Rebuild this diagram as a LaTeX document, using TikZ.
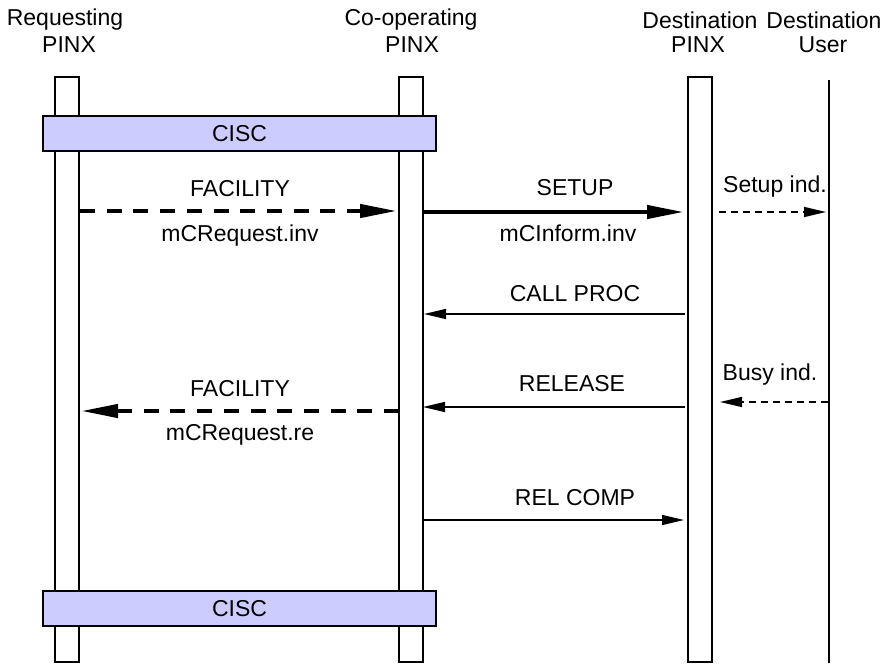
\documentclass[tikz,border=0pt]{standalone}
\usepackage{fontspec}
\setmainfont{Liberation Sans}
\usetikzlibrary{arrows.meta}
\definecolor{ciscfill}{RGB}{204,204,255}
\tikzset{
  lifebar/.style={draw=black, line width=1.3pt, fill=white},
  ciscbox/.style={draw=black, line width=1.3pt, fill=ciscfill, minimum width=393pt, minimum height=35pt, inner sep=0pt},
  hdr/.style={inner sep=0pt, font=\fontsize{23}{27}\selectfont},
  lbl/.style={inner sep=0pt, font=\fontsize{23}{27}\selectfont},
  bigdash/.style={line width=4.3pt, dash pattern=on 15pt off 11.7pt, -{Triangle[length=37pt,width=13pt]}},
  bigsolid/.style={line width=4.3pt, -{Triangle[length=37pt,width=13pt]}},
  thinsolid/.style={line width=1.5pt, -{Triangle[length=22pt,width=10pt]}},
  thindash/.style={line width=1.5pt, dash pattern=on 7pt off 5pt, -{Triangle[length=22pt,width=10pt]}},
}
\begin{document}
\begin{tikzpicture}[x=1pt, y=-1pt]
\useasboundingbox (0,0) rectangle (890,663);

% column headings
\node[hdr] (h1a) at (65,20) {Requesting};
\node[hdr] (h1b) at (69,45) {PINX};
\node[hdr] (h2a) at (411,20) {Co-operating};
\node[hdr] (h2b) at (412,45) {PINX};
\node[hdr] (h3a) at (700,20) {Destination};
\node[hdr] (h3b) at (698,45) {PINX};
\node[hdr] (h4a) at (824,20) {Destination};
\node[hdr] (h4b) at (823,45) {User};

% lifelines
\draw[lifebar] (55,77) rectangle (79,662);
\draw[lifebar] (399,77) rectangle (423,662);
\draw[lifebar] (688,77) rectangle (712,662);
\draw[line width=1.3pt] (829,80) -- (829,663);

% CISC bands
\node[ciscbox] (cisc1) at (239.5,133.5) {};
\node[lbl] (cisc1t) at (239.5,133.5) {CISC};
\node[ciscbox] (cisc2) at (239.5,608.5) {};
\node[lbl] (cisc2t) at (239.5,608.5) {CISC};

% end points of the messages
\coordinate (f1s) at (80,211);   \coordinate (f1e) at (397,211);
\coordinate (s1s) at (423,212);  \coordinate (s1e) at (684,212);
\coordinate (u1s) at (719,212);  \coordinate (u1e) at (826,212);
\coordinate (c1s) at (685,314);  \coordinate (c1e) at (424,314);
\coordinate (u2s) at (828,402);  \coordinate (u2e) at (720,402);
\coordinate (r1s) at (685,407);  \coordinate (r1e) at (423,407);
\coordinate (f2s) at (399,411);  \coordinate (f2e) at (81,411);
\coordinate (rc1s) at (423,520); \coordinate (rc1e) at (684,520);

% messages
\draw[bigdash] (f1s) -- (f1e);
\draw[bigsolid] (s1s) -- (s1e);
\draw[thindash] (u1s) -- (u1e);
\draw[thinsolid] (c1s) -- (c1e);
\draw[thindash] (u2s) -- (u2e);
\draw[thinsolid] (r1s) -- (r1e);
\draw[bigdash] (f2s) -- (f2e);
\draw[thinsolid] (rc1s) -- (rc1e);

% message labels
\node[lbl] (l1) at (240,189) {FACILITY};
\node[lbl] (l2) at (240,236) {mCRequest.inv};
\node[lbl] (l3) at (575,188) {SETUP};
\node[lbl] (l4) at (568,233) {mCInform.inv};
\node[lbl] (l5) at (775,187) {Setup ind.};
\node[lbl] (l6) at (575,294) {CALL PROC};
\node[lbl] (l7) at (770,375) {Busy ind.};
\node[lbl] (l8) at (572,384) {RELEASE};
\node[lbl] (l9) at (240,389) {FACILITY};
\node[lbl] (l10) at (240,435) {mCRequest.re};
\node[lbl] (l11) at (575,498) {REL COMP};
\end{tikzpicture}
\end{document}
